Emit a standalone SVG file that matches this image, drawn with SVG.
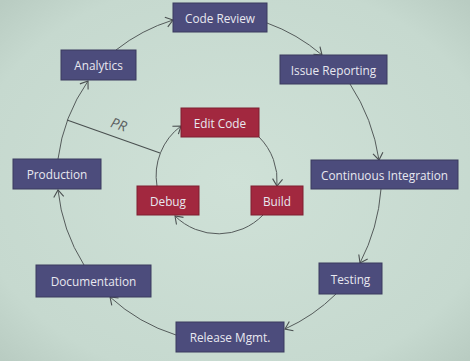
<svg xmlns="http://www.w3.org/2000/svg" width="470" height="361" viewBox="0 0 470 361">
  <defs>
    <radialGradient id="bg" cx="50%" cy="50%" r="70%">
      <stop offset="0" stop-color="#cfe1d7"/>
      <stop offset="0.8" stop-color="#c6d9cf"/>
      <stop offset="1" stop-color="#b9ccc2"/>
    </radialGradient>
    <marker id="arr" markerUnits="userSpaceOnUse" markerWidth="12" markerHeight="12" refX="9" refY="6" orient="auto">
      <path d="M2,1 L9,6 L2,11" fill="none" stroke="#4a4f50" stroke-width="1.1"/>
    </marker>
    <style>
      .blue rect { fill: #4c4c7c; stroke: #3a3a5e; stroke-width: 1; }
      .red rect { fill: #a2283f; stroke: #7e1e30; stroke-width: 1; }
      text { font-family: "Open Sans", "Noto Sans", "Liberation Sans", sans-serif; font-size: 11.8px; fill: #e8e8f0; text-anchor: middle; dominant-baseline: central; }
      .edge { fill: none; stroke: #555b5b; stroke-width: 1; marker-end: url(#arr); }
      .plain { fill: none; stroke: #4a5050; stroke-width: 1.1; }
      .lbl { fill: #5a6060; font-size: 14px; font-style: italic; }
    </style>
  </defs>
  <rect width="470" height="361" fill="url(#bg)"/>

  <g id="connectors">
    <!-- outer cycle -->
    <path class="edge" d="M267,23 A175,175 0 0 1 322,55"/>
    <path class="edge" d="M350,84 A190,190 0 0 1 379,160"/>
    <path class="edge" d="M381,189 A190,190 0 0 1 360,263"/>
    <path class="edge" d="M336,294 A175,175 0 0 1 285,329"/>
    <path class="edge" d="M176,335 A175,175 0 0 1 110,297"/>
    <path class="edge" d="M84,265 A175,175 0 0 1 58,190"/>
    <path class="edge" d="M58,159 A175,175 0 0 1 88,81"/>
    <path class="edge" d="M116,50 A175,175 0 0 1 173,20"/>
    <!-- inner cycle -->
    <path class="edge" d="M259,137 A62,62 0 0 1 277,186"/>
    <path class="edge" d="M263,215 A62,62 0 0 1 175,216"/>
    <path class="edge" d="M157,186 A62,62 0 0 1 181,126"/>
    <!-- PR link -->
    <path class="plain" d="M67,120 L160,153"/>
    <text class="lbl" x="119" y="124" transform="rotate(18 119 124)">PR</text>
  </g>

  <g id="code-review" class="blue"><rect x="173" y="3" width="94" height="29"/><text x="220" y="18">Code Review</text></g>
  <g id="issue-reporting" class="blue"><rect x="280" y="55" width="107" height="29"/><text x="333.5" y="70">Issue Reporting</text></g>
  <g id="continuous-integration" class="blue"><rect x="311" y="160" width="147" height="29"/><text x="384.5" y="175">Continuous Integration</text></g>
  <g id="testing" class="blue"><rect x="319" y="263" width="63" height="31"/><text x="350.5" y="279">Testing</text></g>
  <g id="release-mgmt" class="blue"><rect x="176" y="322" width="108" height="30"/><text x="230" y="337">Release Mgmt.</text></g>
  <g id="documentation" class="blue"><rect x="36" y="265" width="115" height="32"/><text x="93.5" y="281">Documentation</text></g>
  <g id="production" class="blue"><rect x="13" y="159" width="88" height="30"/><text x="57" y="174">Production</text></g>
  <g id="analytics" class="blue"><rect x="61" y="50" width="75" height="30"/><text x="98.5" y="65">Analytics</text></g>

  <g id="edit-code" class="red"><rect x="181" y="108" width="78" height="29"/><text x="220" y="123">Edit Code</text></g>
  <g id="build" class="red"><rect x="251" y="186" width="52" height="29"/><text x="277" y="201">Build</text></g>
  <g id="debug" class="red"><rect x="137" y="186" width="62" height="29"/><text x="168" y="201">Debug</text></g>
</svg>
